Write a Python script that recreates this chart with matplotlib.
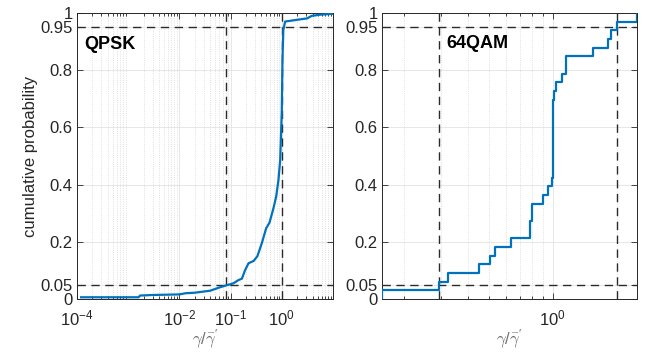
import numpy as np
import matplotlib
matplotlib.use('Agg')
import matplotlib.pyplot as plt
from matplotlib.ticker import NullFormatter, LogLocator, FixedLocator

plt.rcParams['font.family'] = ['Liberation Sans', 'DejaVu Sans']
plt.rcParams['mathtext.fontset'] = 'custom'
plt.rcParams['mathtext.rm'] = 'Liberation Sans'
plt.rcParams['mathtext.it'] = 'Liberation Sans:italic'
plt.rcParams['mathtext.default'] = 'regular'

qpsk_x = [1.2e-4, 1.6e-3, 1.7e-3, 3.0e-3, 1.0e-2, 1.3e-2, 2.0e-2, 4.0e-2, 6.2e-2,
          8.4e-2, 0.114, 0.142, 0.166, 0.192, 0.224, 0.282, 0.334, 0.407, 0.494,
          0.575, 0.686, 0.776, 0.86, 0.93, 1.0, 1.03, 1.07, 1.16, 1.95, 3.1, 3.85,
          5.6, 9.5]
qpsk_y = [0.006, 0.006, 0.012, 0.014, 0.016, 0.02, 0.022, 0.029, 0.041,
          0.048, 0.055, 0.066, 0.071, 0.101, 0.125, 0.133, 0.15, 0.195, 0.247,
          0.267, 0.317, 0.358, 0.416, 0.486, 0.661, 0.836, 0.94, 0.97, 0.976, 0.981, 0.99,
          0.994, 0.997]
qpsk_q = [0.0806, 1.02]   # 5% and 95% points

# 64QAM samples (sorted) and how many samples sit at each value
qam_x = [0.1575, 0.291, 0.322, 0.450, 0.508, 0.535, 0.639, 0.782, 0.795, 0.901,
         0.946, 0.993, 1.004, 1.014, 1.04, 1.106, 1.151, 1.548, 1.828, 1.888,
         2.007, 2.49]
qam_n = [1, 1, 1, 1, 1, 1, 1, 2, 2, 1,
         1, 1, 9, 1, 1, 1, 2, 1, 1, 1,
         1, 1]
qam_q = [0.291, 2.0]

yticks = [0, 0.05, 0.2, 0.4, 0.6, 0.8, 0.95, 1]
ytick_labels = ['0', '0.05', '0.2', '0.4', '0.6', '0.8', '0.95', '1']

blue = '#0072BD'
txt = '#262626'

fig = plt.figure(figsize=(6.46, 3.52), dpi=100)
ax1 = fig.add_axes([0.1192, 0.1506, 0.3963, 0.8125])
ax2 = fig.add_axes([0.5913, 0.1506, 0.3947, 0.8125])


def style(ax):
    ax.set_xscale('log')
    ax.set_ylim(0, 1)
    ax.set_yticks(yticks)
    ax.set_yticklabels(ytick_labels)
    ax.xaxis.set_minor_locator(LogLocator(base=10, subs=np.arange(2, 10)))
    ax.xaxis.set_minor_formatter(NullFormatter())
    ax.tick_params(which='both', direction='in', top=True, right=True,
                   colors=txt, labelsize=12, width=0.6)
    ax.tick_params(which='major', length=4, pad=3)
    ax.tick_params(axis='x', which='major', pad=7)
    ax.tick_params(which='minor', length=2)
    ax.grid(True, which='major', color='#e3e3e3', lw=0.6, ls='-')
    ax.grid(True, which='minor', axis='x', color='#d6d6d6', lw=0.6, ls=':')
    ax.set_axisbelow(True)
    for s in ax.spines.values():
        s.set_color(txt)
        s.set_linewidth(0.7)
    ax.set_xlabel(r"$\mathit{\gamma}/\mathit{\bar{\gamma}}'$",
                  math_fontfamily='cm', fontsize=12, color='#707070', labelpad=-1)


def quantile_lines(ax, q):
    dash = dict(color='#2a2a2a', lw=1.0, ls=(0, (6, 4)), zorder=3)
    ax.axhline(0.05, **dash)
    ax.axhline(0.95, **dash)
    ax.axvline(q[0], **dash)
    ax.axvline(q[1], **dash)


# left: QPSK
style(ax1)
ax1.plot(qpsk_x, qpsk_y, color=blue, lw=1.6, zorder=4)
quantile_lines(ax1, qpsk_q)
ax1.set_xlim(1e-4, 10)
ax1.xaxis.set_major_locator(FixedLocator([1e-4, 1e-2, 1e-1, 1e0]))
ax1.set_ylabel('cumulative probability', fontsize=12, color=txt, labelpad=2)
ax1.text(0.03, 0.89, 'QPSK', transform=ax1.transAxes, fontsize=13,
         fontweight='bold', va='center', ha='left', color='k')

# right: 64QAM stairs
F = np.cumsum(qam_n) / np.sum(qam_n)
sx = np.concatenate([[qam_x[0]], qam_x])
sy = np.concatenate([[0], F])
style(ax2)
ax2.step(sx, sy, where='post', color=blue, lw=1.6, zorder=4)
quantile_lines(ax2, qam_q)
ax2.set_xlim(qam_x[0], qam_x[-1])
ax2.xaxis.set_major_locator(FixedLocator([1e0]))
ax2.text(0.254, 0.895, '64QAM', transform=ax2.transAxes, fontsize=13,
         fontweight='bold', va='center', ha='left', color='k')

fig.savefig('out.png', dpi=100)
